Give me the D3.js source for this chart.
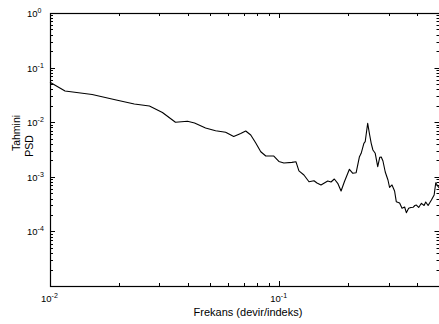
<!DOCTYPE html>
<html>
<head>
<meta charset="utf-8">
<script src="https://cdn.jsdelivr.net/npm/d3@7"></script>
<style>
  html, body { margin: 0; padding: 0; background: #fff; }
  svg { display: block; }
  text { font-family: "Liberation Sans", Arial, sans-serif; fill: #000; }
</style>
</head>
<body>
<svg id="chart" width="439" height="324"></svg>
<script>
// Estimated power spectral density (log–log)
const frequency = [
  0.0100, 0.01163, 0.01527, 0.01945, 0.02332, 0.02714, 0.03093, 0.03526, 0.03979, 0.04271,
  0.04770, 0.05277, 0.05836, 0.06328, 0.06790, 0.07141, 0.07510, 0.07898, 0.08306, 0.08736,
  0.09471, 0.09960, 0.10474, 0.11356, 0.11822, 0.12184, 0.12812, 0.13478, 0.14174, 0.14608,
  0.15208, 0.16270, 0.16819, 0.17389, 0.17993, 0.18604, 0.19235, 0.20230, 0.20937, 0.21647,
  0.22378, 0.22768, 0.23395, 0.23704, 0.24306, 0.24752, 0.25183, 0.25616, 0.26219, 0.26884,
  0.27434, 0.27848, 0.28333, 0.28994, 0.29799, 0.30284, 0.31024, 0.31847, 0.32394, 0.33497,
  0.34316, 0.35229, 0.35838, 0.36681, 0.37499, 0.38338, 0.39040, 0.39637, 0.40563, 0.41687,
  0.42836, 0.43532, 0.44598, 0.46101, 0.47381, 0.48152, 0.49330, 0.5000
];
const psd = [
  0.0538, 0.0373, 0.0322, 0.0255, 0.02154, 0.01980, 0.01505, 0.0100, 0.01039, 0.00967,
  0.00783, 0.00699, 0.00656, 0.00547, 0.00621, 0.00690, 0.00583, 0.00416, 0.00288, 0.00240,
  0.00240, 0.00191, 0.00179, 0.00184, 0.00189, 0.00128, 0.00108, 0.000813, 0.000848, 0.000770,
  0.000708, 0.000838, 0.000803, 0.000911, 0.000760, 0.000549, 0.000813, 0.001372, 0.001159, 0.001189,
  0.002334, 0.002694, 0.004108, 0.004394, 0.00955, 0.00608, 0.004108, 0.003096, 0.002694, 0.001531,
  0.002276, 0.002305, 0.001948, 0.001224, 0.000874, 0.000637, 0.000708, 0.000549, 0.000350, 0.000331,
  0.000265, 0.000280, 0.000220, 0.000265, 0.000274, 0.000276, 0.000298, 0.000304, 0.000274, 0.000327,
  0.000298, 0.000346, 0.000298, 0.000376, 0.000464, 0.000779, 0.000659, 0.000616
];
const xDomain = [0.01, 0.5];
const yDomain = [1e-5, 1];
const xMajorTicks = [0.01, 0.1];
const yMajorTicks = [1, 0.1, 0.01, 0.001, 1e-4];
const xLabel = "Frekans (devir/indeks)";
const yLabelLines = ["Tahmini", "PSD"];

(function () {
  const svg = d3.select("#chart");
  const plotL = 50, plotR = 439.5, plotT = 13, plotB = 286;

  const x = d3.scaleLog().domain(xDomain).range([plotL, plotR]);
  const y = d3.scaleLog().domain(yDomain).range([plotB, plotT]);

  // minor tick positions: 2..9 within each decade
  function minorTicks(domain) {
    const out = [];
    const lo = Math.floor(Math.log10(domain[0]));
    const hi = Math.ceil(Math.log10(domain[1]));
    for (let e = lo; e < hi; e++) {
      for (let m = 2; m <= 9; m++) {
        const v = m * Math.pow(10, e);
        if (v > domain[0] * 1.0001 && v < domain[1] * 0.9999) out.push(v);
      }
    }
    return out;
  }

  const g = svg.append("g");
  const majorLen = 5, minorLen = 3;

  // box ticks on all four sides, pointing inward
  const xAll = xMajorTicks.map(v => ({v, len: majorLen}))
    .concat(minorTicks(xDomain).map(v => ({v, len: minorLen})));
  const yAll = yMajorTicks.map(v => ({v, len: majorLen}))
    .concat(minorTicks(yDomain).map(v => ({v, len: minorLen})));

  const px = v => Math.round(v) + 0.5;

  g.selectAll(".xtb").data(xAll).join("line")
    .attr("x1", d => px(x(d.v))).attr("x2", d => px(x(d.v)))
    .attr("y1", plotB).attr("y2", d => plotB - d.len)
    .attr("stroke", "#000");
  g.selectAll(".xtt").data(xAll).join("line")
    .attr("x1", d => px(x(d.v))).attr("x2", d => px(x(d.v)))
    .attr("y1", plotT).attr("y2", d => plotT + d.len)
    .attr("stroke", "#000");
  g.selectAll(".ytl").data(yAll).join("line")
    .attr("y1", d => px(y(d.v))).attr("y2", d => px(y(d.v)))
    .attr("x1", plotL).attr("x2", d => plotL + d.len)
    .attr("stroke", "#000");
  g.selectAll(".ytr").data(yAll).join("line")
    .attr("y1", d => px(y(d.v))).attr("y2", d => px(y(d.v)))
    .attr("x1", plotR).attr("x2", d => plotR - d.len)
    .attr("stroke", "#000");

  // frame
  g.append("rect")
    .attr("x", plotL + 0.5).attr("y", plotT + 0.5)
    .attr("width", plotR - plotL).attr("height", plotB - plotT)
    .attr("fill", "none").attr("stroke", "#000").attr("stroke-width", 1.2);

  // spectrum line
  const line = d3.line()
    .x((d, i) => x(frequency[i]))
    .y(d => y(d));
  svg.append("path")
    .datum(psd)
    .attr("d", line)
    .attr("fill", "none")
    .attr("stroke", "#000")
    .attr("stroke-width", 1.1)
    .attr("stroke-linejoin", "round");

  // tick labels: 10 with superscript exponent
  function powLabel(sel, v) {
    const e = Math.round(Math.log10(v));
    sel.append("tspan").text("10");
    sel.append("tspan").attr("dy", -4).attr("font-size", 7).text(e);
  }
  yMajorTicks.forEach(v => {
    const t = svg.append("text")
      .attr("x", 27).attr("y", y(v) + 4)
      .attr("font-size", 9.5);
    powLabel(t, v);
  });
  xMajorTicks.forEach(v => {
    const t = svg.append("text")
      .attr("x", x(v) - 9).attr("y", plotB + 16)
      .attr("font-size", 9.5);
    powLabel(t, v);
  });

  // axis titles
  svg.append("text")
    .attr("x", 248).attr("y", 316)
    .attr("text-anchor", "middle").attr("font-size", 11)
    .text(xLabel);

  // two-line vertical title, each line centred on its own position
  const yTitlePos = [{bx: 19.5, cy: 133}, {bx: 32.5, cy: 146}];
  svg.selectAll(".ytitle").data(yLabelLines).join("text")
    .attr("class", "ytitle")
    .attr("transform", (d, i) => `translate(${yTitlePos[i].bx},${yTitlePos[i].cy}) rotate(-90)`)
    .attr("text-anchor", "middle").attr("font-size", 10.5)
    .text(d => d);
})();
</script>
</body>
</html>
